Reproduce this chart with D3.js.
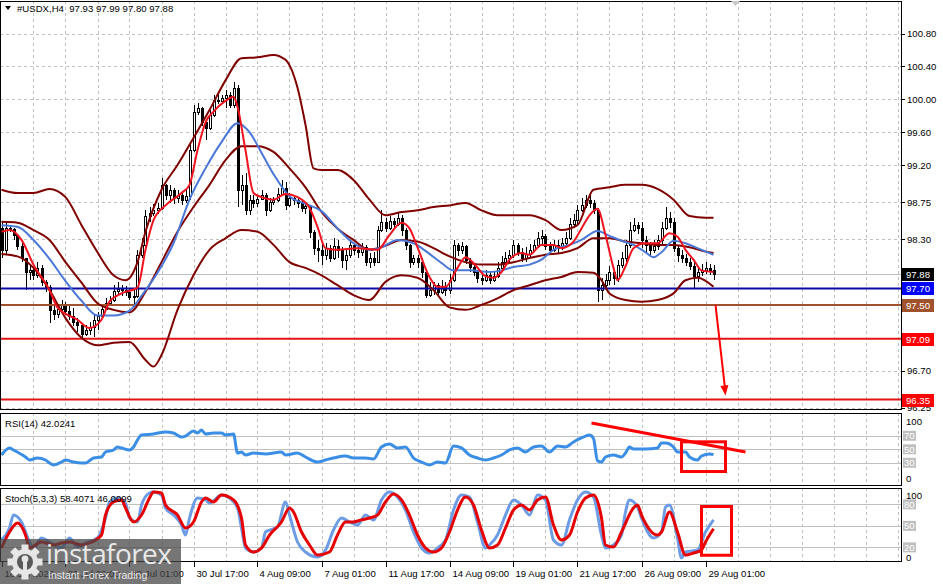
<!DOCTYPE html>
<html><head><meta charset="utf-8">
<script src="https://cdn.jsdelivr.net/npm/d3@7/dist/d3.min.js"></script>
<style>
body{margin:0;background:#fff;overflow:hidden}
svg{display:block}
text{font-family:"Liberation Sans",Arial,sans-serif}
</style></head>
<body><svg id="c" width="943" height="584"></svg>
<script>
// ---------------- DATA ----------------
const symbolTitle = "#USDX,H4  97.93 97.99 97.80 97.88";
const rsiTitle = "RSI(14) 42.0241";
const stochTitle = "Stoch(5,3,3) 58.4071 46.0099";

const opens = [98.43,98.17,98.43,98.42,98.35,98.22,98.07,97.90,97.92,97.86,97.95,97.78,97.72,97.44,97.39,97.45,97.50,97.43,97.37,97.29,97.26,97.15,97.20,97.23,97.32,97.37,97.45,97.52,97.56,97.67,97.69,97.68,97.66,97.60,97.61,98.11,98.23,98.58,98.62,98.65,98.68,98.96,98.84,98.90,98.80,98.84,98.78,98.82,99.38,99.85,99.89,99.72,99.65,99.81,99.99,99.98,100.02,100.05,99.93,100.14,98.90,98.96,98.65,98.78,98.74,98.79,98.84,98.65,98.75,98.78,98.85,98.92,98.72,98.80,98.78,98.74,98.68,98.70,98.39,98.19,98.17,98.11,98.19,98.07,98.22,98.17,98.05,98.11,98.23,98.17,98.14,98.20,98.02,98.07,98.02,98.41,98.51,98.43,98.52,98.48,98.56,98.41,98.23,98.02,98.07,98.02,97.90,97.62,97.68,97.74,97.66,97.72,97.68,97.80,98.23,98.17,98.22,98.05,97.96,97.90,97.83,97.80,97.86,97.80,97.85,97.95,98.02,98.07,98.11,98.23,98.14,98.07,98.12,98.17,98.23,98.31,98.34,98.22,98.17,98.23,98.19,98.25,98.31,98.48,98.53,98.65,98.72,98.78,98.74,98.65,97.68,97.74,97.80,97.90,97.83,97.99,98.07,98.23,98.41,98.47,98.43,98.29,98.23,98.17,98.22,98.29,98.43,98.56,98.51,98.19,98.11,98.07,98.02,97.97,97.85,97.90,97.92,97.95,97.93];
const closes = [98.17,98.43,98.42,98.35,98.22,98.07,97.90,97.92,97.86,97.95,97.78,97.72,97.44,97.39,97.45,97.50,97.43,97.37,97.29,97.26,97.15,97.20,97.23,97.32,97.37,97.45,97.52,97.56,97.67,97.69,97.68,97.66,97.60,97.61,98.11,98.23,98.58,98.62,98.65,98.68,98.96,98.84,98.90,98.80,98.84,98.78,98.82,99.38,99.85,99.89,99.72,99.65,99.81,99.99,99.98,100.02,100.05,99.93,100.14,98.90,98.96,98.65,98.78,98.74,98.79,98.84,98.65,98.75,98.78,98.85,98.92,98.72,98.80,98.78,98.74,98.68,98.70,98.39,98.19,98.17,98.11,98.19,98.07,98.22,98.17,98.05,98.11,98.23,98.17,98.14,98.20,98.02,98.07,98.02,98.41,98.51,98.43,98.52,98.48,98.56,98.41,98.23,98.02,98.07,98.02,97.90,97.62,97.68,97.74,97.66,97.72,97.68,97.80,98.23,98.17,98.22,98.05,97.96,97.90,97.83,97.80,97.86,97.80,97.85,97.95,98.02,98.07,98.11,98.23,98.14,98.07,98.12,98.17,98.23,98.31,98.34,98.22,98.17,98.23,98.19,98.25,98.31,98.48,98.53,98.65,98.72,98.78,98.74,98.65,97.68,97.74,97.80,97.90,97.83,97.99,98.07,98.23,98.41,98.47,98.43,98.29,98.23,98.17,98.22,98.29,98.43,98.56,98.51,98.19,98.11,98.07,98.02,97.97,97.85,97.90,97.92,97.95,97.93,97.88];
const highs = [98.51,98.51,98.47,98.43,98.35,98.25,98.07,97.99,97.95,98.02,97.99,97.80,97.74,97.50,97.50,97.56,97.54,97.50,97.46,97.34,97.28,97.26,97.29,97.38,97.41,97.50,97.58,97.61,97.74,97.78,97.74,97.73,97.71,97.68,98.17,98.31,98.65,98.69,98.73,98.74,99.04,98.97,98.96,98.92,98.90,98.87,98.90,99.47,99.93,99.96,99.91,99.75,99.87,100.05,100.06,100.05,100.11,100.09,100.21,100.17,99.08,99.10,98.84,98.84,98.84,98.90,98.86,98.80,98.81,98.92,99.02,98.99,98.86,98.84,98.81,98.78,98.75,98.72,98.41,98.29,98.25,98.25,98.23,98.31,98.29,98.20,98.17,98.29,98.25,98.23,98.25,98.23,98.13,98.14,98.46,98.65,98.56,98.58,98.56,98.62,98.59,98.43,98.24,98.11,98.11,98.07,97.92,97.78,97.78,97.77,97.80,97.78,97.88,98.29,98.25,98.26,98.23,98.07,97.99,97.92,97.88,97.92,97.90,97.91,98.02,98.09,98.14,98.17,98.29,98.25,98.19,98.20,98.24,98.29,98.39,98.41,98.36,98.27,98.29,98.29,98.31,98.39,98.56,98.61,98.72,98.80,98.84,98.84,98.78,98.68,97.83,97.88,97.97,97.92,98.05,98.14,98.29,98.51,98.56,98.51,98.51,98.34,98.27,98.29,98.35,98.51,98.69,98.63,98.56,98.22,98.17,98.12,98.07,98.02,97.97,98.00,98.02,98.00,97.99];
const lows = [98.07,98.11,98.39,98.29,98.17,98.02,97.68,97.80,97.80,97.83,97.73,97.66,97.28,97.32,97.34,97.41,97.38,97.32,97.24,97.17,97.10,97.12,97.13,97.11,97.20,97.34,97.44,97.49,97.54,97.62,97.61,97.61,97.56,97.47,97.58,98.07,98.19,98.51,98.58,98.61,98.65,98.78,98.74,98.73,98.74,98.71,98.74,98.78,99.36,99.81,99.67,99.50,99.63,99.78,99.94,99.97,99.89,99.89,99.89,98.69,98.72,98.59,98.59,98.68,98.69,98.78,98.58,98.63,98.72,98.75,98.82,98.65,98.69,98.72,98.68,98.63,98.61,98.31,98.11,98.02,97.99,98.05,98.02,98.05,98.07,97.95,97.92,98.07,98.11,98.07,98.09,97.97,97.95,97.97,98.02,98.39,98.39,98.41,98.41,98.46,98.34,98.17,97.95,97.99,97.95,97.83,97.58,97.60,97.62,97.60,97.63,97.61,97.63,97.78,98.09,98.12,98.00,97.90,97.85,97.77,97.74,97.78,97.75,97.78,97.83,97.92,97.99,98.02,98.07,98.09,98.02,98.02,98.07,98.14,98.19,98.24,98.17,98.11,98.14,98.12,98.17,98.22,98.29,98.43,98.47,98.63,98.68,98.68,98.61,97.54,97.56,97.68,97.74,97.74,97.78,97.95,98.02,98.19,98.39,98.36,98.19,98.14,98.11,98.13,98.17,98.23,98.41,98.43,98.14,98.02,98.01,97.97,97.92,97.71,97.78,97.85,97.88,97.86,97.80];

// fast MA (red)
const redBars = [0,2,5,8,12,14,19,22,25,27,30,34,36,38,41,45,47,49,51,53,56,58,59,61,63,65,68,71,74,77,79,81,84,89,94,97,100,102,104,107,109,111,114,116,118,121,123,125,127,130,132,135,138,140,143,145,147,149,151,153,154,156,158,161,164,167,169,171,173,175,178];
const redVals = [98.39,98.41,98.29,97.99,97.68,97.47,97.32,97.22,97.32,97.54,97.64,97.71,98.17,98.53,98.71,98.86,98.96,99.38,99.72,99.85,99.98,100.03,99.91,99.38,98.86,98.81,98.78,98.85,98.81,98.68,98.45,98.19,98.17,98.19,98.17,98.35,98.50,98.43,98.20,97.84,97.72,97.72,97.95,98.08,98.01,97.85,97.83,97.90,98.05,98.13,98.11,98.23,98.23,98.19,98.27,98.43,98.59,98.67,98.35,97.95,97.80,97.97,98.19,98.25,98.25,98.37,98.33,98.17,98.05,97.92,97.90];
// slow MA (blue)
const blueBars = [0,4,8,12,16,20,24,28,32,35,39,43,47,51,55,59,62,65,68,72,76,80,84,88,92,95,99,103,107,110,113,117,122,125,128,132,135,138,142,145,149,152,155,158,161,163,165,168,171,174,178];
const blueVals = [98.47,98.45,98.29,98.06,97.79,97.55,97.37,97.37,97.43,97.61,97.89,98.25,98.78,99.16,99.48,99.71,99.60,99.35,99.09,98.82,98.73,98.64,98.43,98.25,98.17,98.20,98.29,98.25,98.12,98.01,97.92,97.92,97.90,97.92,97.96,97.99,98.05,98.17,98.23,98.29,98.40,98.34,98.28,98.23,98.14,98.08,98.14,98.28,98.25,98.19,98.11];
// Bollinger bands
const bandBars = [0,4,8,12,16,20,24,28,32,36,40,44,48,52,56,60,64,68,72,76,80,84,88,92,96,100,104,108,112,116,120,124,128,132,136,140,144,148,152,156,160,164,168,172,176,178];
const bandMid = [98.51,98.50,98.41,98.29,98.02,97.77,97.52,97.44,97.41,97.66,98.02,98.39,98.69,98.96,99.26,99.43,99.43,99.36,99.16,98.93,98.63,98.43,98.29,98.17,98.22,98.29,98.27,98.19,98.09,98.02,97.99,97.99,98.02,98.07,98.11,98.13,98.19,98.31,98.31,98.27,98.25,98.23,98.23,98.20,98.15,98.13];
const upperBars = [0,4,8,12,16,20,24,28,31,34,36,40,44,48,52,56,60,64,68,71,74,76,78,80,84,88,92,96,100,104,108,112,116,120,124,128,132,136,140,144,148,152,156,160,164,168,172,176,178];
const bandUpper = [98.90,98.86,98.86,98.91,98.81,98.47,98.14,97.86,97.80,98.02,98.39,98.90,99.20,99.53,99.87,100.23,100.50,100.51,100.54,100.48,100.14,99.69,99.16,99.14,99.14,99.02,98.78,98.59,98.63,98.65,98.69,98.71,98.74,98.65,98.59,98.59,98.59,98.53,98.41,98.47,98.90,98.93,98.96,98.96,98.91,98.78,98.58,98.56,98.56];
const lowerBars = [0,4,8,12,16,20,24,28,32,36,38,40,44,48,52,56,60,64,68,72,76,80,84,88,92,96,100,104,108,112,116,120,124,128,132,136,140,144,148,150,152,156,160,164,168,171,174,178];
const bandLower = [98.12,98.09,97.95,97.68,97.34,97.10,97.01,97.04,97.05,96.83,96.75,96.89,97.44,97.86,98.17,98.31,98.41,98.39,98.23,98.02,97.95,97.86,97.74,97.62,97.56,97.78,97.86,97.83,97.68,97.47,97.44,97.50,97.58,97.68,97.74,97.80,97.84,97.90,97.89,97.80,97.64,97.56,97.54,97.56,97.64,97.80,97.83,97.72];

// RSI(14)
const rsiBars = [0,2,3,6,7,9,11,12,13,15,16,18,20,21,23,25,26,28,29,30,32,33,34,35,38,41,43,45,46,48,49,50,51,53,55,56,58,59,60,61,63,66,70,71,74,76,79,81,83,86,88,91,93,95,97,99,101,103,105,107,109,111,113,115,117,119,121,123,125,127,129,131,133,135,137,139,141,143,145,147,148,149,150,151,153,155,156,157,158,161,164,165,166,168,169,171,172,174,175,177,178];
const rsiVals = [41.5,51.9,48.9,38.5,34.1,37.0,34.1,29.6,26.7,31.1,34.1,31.1,29.6,29.6,37.0,38.5,45.9,48.9,53.3,51.9,48.9,53.3,63.7,71.1,72.6,75.6,74.1,68.1,69.6,77.0,74.1,78.5,72.6,74.1,74.1,71.1,72.6,44.4,45.9,41.5,44.4,43.0,45.9,41.5,44.4,38.5,31.1,34.1,37.0,40.0,37.0,37.0,35.6,53.3,57.8,51.9,53.3,37.0,31.1,26.7,31.1,29.6,54.8,51.9,41.5,37.0,34.1,37.0,41.5,48.9,51.9,45.9,53.3,54.8,45.9,54.8,53.3,60.7,66.7,71.1,66.0,33.0,31.1,38.5,41.5,38.5,44.4,53.3,50.4,50.4,51.9,59.3,59.3,53.3,45.9,45.9,38.5,34.1,40.0,43.0,42.0];

// Stochastic %K (blue) and %D (red)
const kBars = [0,2,3,5,7,8,10,12,15,17,19,21,24,26,27,29,31,32,34,35,37,38,40,41,43,45,46,47,49,51,52,55,57,59,60,61,63,65,66,69,71,72,74,76,79,81,83,85,87,89,91,93,95,97,99,101,103,105,107,109,111,113,115,117,119,121,122,124,126,128,130,132,134,136,138,140,142,144,146,148,150,151,153,155,156,157,159,160,163,165,166,167,169,170,171,174,176,178];
const kVals = [30.3,47.0,65.1,55.4,27.5,19.1,33.1,27.5,19.1,33.1,20.5,26.1,33.1,60.9,83.3,88.8,81.9,60.9,55.4,79.1,95.8,97.2,93.0,74.9,65.1,51.2,37.2,60.9,88.8,86.1,81.9,93.0,88.8,74.9,47.0,19.1,13.5,19.1,41.4,48.4,83.3,65.1,27.5,13.5,6.6,16.3,44.2,60.9,55.4,51.2,65.1,58.3,86.1,97.2,90.2,72.1,41.4,19.1,12.1,19.1,30.3,72.1,93.0,90.2,55.4,19.1,23.3,37.2,65.1,86.1,79.1,65.1,93.0,86.1,30.3,23.3,58.3,86.1,97.2,90.2,37.2,19.1,23.3,37.2,69.3,86.1,76.3,60.9,33.1,41.4,76.3,79.1,33.1,5.2,13.5,16.3,41.4,58.4];
const dBars = [0,2,4,6,7,10,13,15,17,20,22,25,26,28,30,31,33,35,37,38,40,41,44,46,48,50,51,53,55,58,60,61,63,65,67,70,72,73,75,77,79,82,84,86,88,90,92,94,96,98,100,102,104,106,108,110,112,114,116,118,120,122,124,126,128,130,132,134,136,138,140,142,144,146,148,150,151,153,155,158,159,160,164,165,167,169,171,173,175,176,178];
const dVals = [19.1,41.4,53.9,37.2,19.1,27.5,23.3,26.1,27.5,23.3,26.1,37.2,65.1,83.3,86.1,74.9,55.4,65.1,88.8,97.2,95.8,79.1,65.1,47.0,55.4,83.3,88.8,83.3,93.0,86.1,60.9,23.3,13.5,19.1,37.2,55.4,74.9,69.3,41.4,23.3,9.3,13.5,37.2,55.4,55.4,58.3,60.9,65.1,83.3,94.4,86.1,65.1,37.2,19.1,13.5,19.1,41.4,72.1,90.2,79.1,44.2,19.1,23.3,47.0,72.1,79.1,72.1,86.1,90.2,51.2,30.3,37.2,69.3,88.8,93.0,60.9,23.3,20.5,41.4,74.9,79.1,65.1,37.2,41.4,69.3,41.4,9.3,12.1,16.3,27.5,46.0];

// axes / levels
const priceTicks = [100.80,100.40,100.00,99.60,99.20,98.75,98.30,96.70,96.25];
const bidPrice = 97.88;
const levelPrices = [97.70,97.50,97.09,96.35];
const timeTickBars = [0,16,32,48,64,80,96,112,128,144,160,176];
const timeTickLabels = ["18 Jul 2025","23 Jul 09:00","28 Jul 01:00","30 Jul 17:00","4 Aug 09:00","7 Aug 01:00","11 Aug 17:00","14 Aug 09:00","19 Aug 01:00","21 Aug 17:00","26 Aug 09:00","29 Aug 01:00"];
const rsiLevels = [70,50,30];
const stochLevels = [80,50,20];
// annotations (bar index / value anchors)
const arrowFrom = [178.5, 97.50], arrowTo = [181, 96.40];
const rsiTrend = [[147.5, 89], [186, 46]];
const rsiBox = [[170, 61], [181, 17]];
const stochBox = [[175, 77], [182.5, 9]];

// ---------------- STYLE ----------------
const levelColors = ["#0a0aa8","#a0522d","#e31414","#e31414"];
const levelLabelBg = ["#0000ff","#a0522d","#ff0000","#ff0000"];
const C_BAND = "#800000", C_RED = "#f0141e", C_BLUE = "#4a78d8";
const C_RSI = "#3a8ee6", C_K = "#6d9ce6", C_D = "#e60000";
const GRID = "#c0c0c0";

const svg = d3.select("#c");
const PR = 901;
const main = {t:1,b:410}, rsiP = {t:413,b:486}, stP = {t:488,b:562};

const x = d3.scaleLinear().domain([0,178]).range([1.5,713.5]);
const y = d3.scaleLinear().domain([96.35,100.80]).range([399.5,33.5]);
const yR = d3.scaleLinear().domain([0,100]).range([483,415.5]);
const yS = d3.scaleLinear().domain([0,100]).range([561.7,490]);

svg.append("rect").attr("width",943).attr("height",584).attr("fill","#fff");

const defs = svg.append("defs");
[["cm",main],["cr",rsiP],["cs",stP]].forEach(([id,p])=>{
  defs.append("clipPath").attr("id",id).append("rect").attr("x",0).attr("y",p.t).attr("width",PR).attr("height",p.b-p.t);
});

// vertical grid
const vgrid = d3.range(8,232,8);
[main,rsiP,stP].forEach(p=>{
  svg.append("g").selectAll("line").data(vgrid.filter(d=>x(d)<PR-1)).join("line")
    .attr("x1",d=>Math.round(x(d))+0.5).attr("x2",d=>Math.round(x(d))+0.5)
    .attr("y1",p.t).attr("y2",p.b).attr("stroke",GRID).attr("stroke-dasharray","3,3")
    .attr("shape-rendering","crispEdges");
});
// horizontal grid main
svg.append("g").selectAll("line").data(priceTicks.concat([bidPrice])).join("line")
  .attr("x1",0).attr("x2",PR).attr("y1",d=>Math.round(y(d))+0.5).attr("y2",d=>Math.round(y(d))+0.5)
  .attr("stroke",GRID).attr("stroke-dasharray","3,3").attr("shape-rendering","crispEdges");
svg.append("line").attr("x1",0).attr("x2",PR).attr("y1",Math.round(y(bidPrice))+0.5).attr("y2",Math.round(y(bidPrice))+0.5)
  .attr("stroke","#c0c0c0").attr("shape-rendering","crispEdges");

svg.append("g").selectAll("line").data(rsiLevels).join("line")
  .attr("x1",0).attr("x2",PR).attr("y1",d=>Math.round(yR(d))+0.5).attr("y2",d=>Math.round(yR(d))+0.5)
  .attr("stroke",GRID).attr("shape-rendering","crispEdges");
svg.append("g").selectAll("line").data(stochLevels).join("line")
  .attr("x1",0).attr("x2",PR).attr("y1",d=>Math.round(yS(d))+0.5).attr("y2",d=>Math.round(yS(d))+0.5)
  .attr("stroke",GRID).attr("shape-rendering","crispEdges");

// candles
const gC = svg.append("g").attr("clip-path","url(#cm)");
closes.forEach((c,i)=>{
  const o = opens[i];
  const cx = Math.round(x(i)) + 0.5;
  const hi = Math.max(highs[i],o,c), lo = Math.min(lows[i],o,c);
  gC.append("line").attr("x1",cx).attr("x2",cx).attr("y1",Math.round(y(hi))).attr("y2",Math.round(y(lo)))
    .attr("stroke","#000").attr("shape-rendering","crispEdges");
  const yt = Math.round(y(Math.max(o,c))), yb = Math.round(y(Math.min(o,c)));
  gC.append("rect").attr("x",cx-1).attr("y",yt+0.5).attr("width",2).attr("height",Math.max(yb-yt,0.01))
    .attr("fill", c>=o ? "#fff" : "#000").attr("stroke","#000").attr("shape-rendering","crispEdges");
});

// levels
const gL = svg.append("g").attr("clip-path","url(#cm)");
levelPrices.forEach((v,i)=>{
  gL.append("line").attr("x1",0).attr("x2",PR).attr("y1",y(v)).attr("y2",y(v))
    .attr("stroke",levelColors[i]).attr("stroke-width",2);
});

// indicator lines
function pairs(b,v){return b.map((d,i)=>[d,v[i]]);}
const lineP = d3.line().x(d=>x(d[0])).y(d=>y(d[1])).curve(d3.curveMonotoneX);
const gI = svg.append("g").attr("clip-path","url(#cm)").attr("fill","none");
gI.append("path").attr("d",lineP(pairs(upperBars,bandUpper))).attr("stroke",C_BAND).attr("stroke-width",2);
gI.append("path").attr("d",lineP(pairs(bandBars,bandMid))).attr("stroke",C_BAND).attr("stroke-width",2);
gI.append("path").attr("d",lineP(pairs(lowerBars,bandLower))).attr("stroke",C_BAND).attr("stroke-width",2);
gI.append("path").attr("d",lineP(pairs(blueBars,blueVals))).attr("stroke",C_BLUE).attr("stroke-width",2);
gI.append("path").attr("d",lineP(pairs(redBars,redVals))).attr("stroke",C_RED).attr("stroke-width",2);

// RSI
const lineR = d3.line().x(d=>x(d[0])).y(d=>yR(d[1])).curve(d3.curveMonotoneX);
svg.append("path").attr("clip-path","url(#cr)").attr("d",lineR(pairs(rsiBars,rsiVals)))
  .attr("fill","none").attr("stroke",C_RSI).attr("stroke-width",3);
// Stoch
const lineS = d3.line().x(d=>x(d[0])).y(d=>yS(d[1])).curve(d3.curveMonotoneX);
svg.append("path").attr("clip-path","url(#cs)").attr("d",lineS(pairs(kBars,kVals)))
  .attr("fill","none").attr("stroke",C_K).attr("stroke-width",3);
svg.append("path").attr("clip-path","url(#cs)").attr("d",lineS(pairs(dBars,dVals)))
  .attr("fill","none").attr("stroke",C_D).attr("stroke-width",3);

// panel frames
[main,rsiP,stP].forEach(p=>{
  svg.append("rect").attr("x",0.5).attr("y",p.t+0.5).attr("width",PR-0.5).attr("height",p.b-p.t-1)
    .attr("fill","none").attr("stroke","#000").attr("shape-rendering","crispEdges");
});

// right price axis
const gA = svg.append("g");
priceTicks.forEach(v=>{
  gA.append("line").attr("x1",PR).attr("x2",PR+4).attr("y1",Math.round(y(v))+0.5).attr("y2",Math.round(y(v))+0.5).attr("stroke","#000");
  gA.append("text").attr("x",PR+6).attr("y",y(v)+3.5).attr("font-size",9.6).attr("fill","#000").text(v.toFixed(2));
});
function tag(v,yy,bg){
  gA.append("rect").attr("x",PR+1).attr("y",Math.round(yy)-6).attr("width",32).attr("height",13).attr("fill",bg);
  gA.append("text").attr("x",PR+5).attr("y",Math.round(yy)+4).attr("font-size",9.6).attr("fill","#fff").text(v.toFixed(2));
}
tag(bidPrice,y(bidPrice),"#000");
levelPrices.forEach((v,i)=>tag(v,y(v),levelLabelBg[i]));

function subAxis(sc, lv){
  gA.append("text").attr("x",PR+5).attr("y",sc(100)+9).attr("font-size",9.6).text("100");
  gA.append("text").attr("x",PR+5).attr("y",sc(0)-1).attr("font-size",9.6).text("0");
  lv.forEach(v=>{
    gA.append("rect").attr("x",PR+2).attr("y",sc(v)-5).attr("width",13).attr("height",10).attr("fill","#c0c0c0");
    gA.append("text").attr("x",PR+3).attr("y",sc(v)+3.5).attr("font-size",9.6).attr("fill","#fff").text(v);
  });
}
subAxis(yR, rsiLevels);
subAxis(yS, stochLevels);

// time axis
timeTickBars.forEach((b,i)=>{
  const xx = Math.round(x(b))+0.5;
  gA.append("line").attr("x1",xx).attr("x2",xx).attr("y1",stP.b).attr("y2",stP.b+5).attr("stroke","#000");
  gA.append("text").attr("x",xx+2).attr("y",577).attr("font-size",9.6).text(timeTickLabels[i]);
});

// titles
svg.append("path").attr("d","M5,6 L11,6 L8,10 Z").attr("fill","#000");
svg.append("text").attr("x",17).attr("y",12).attr("font-size",9.6).attr("xml:space","preserve").text(symbolTitle);
svg.append("text").attr("x",5).attr("y",rsiP.t+14).attr("font-size",9.6).text(rsiTitle);
svg.append("text").attr("x",5).attr("y",stP.t+14).attr("font-size",9.6).text(stochTitle);
svg.append("path").attr("d","M731,1 L740,1 L735.5,6 Z").attr("fill","#c8c8c8");

// annotations
const gN = svg.append("g").attr("fill","none").attr("stroke","#ff0000");
const ax1 = x(arrowFrom[0]), ay1 = y(arrowFrom[1]), ax2 = x(arrowTo[0]), ay2 = y(arrowTo[1]);
gN.append("line").attr("x1",ax1).attr("y1",ay1).attr("x2",ax2-0.6).attr("y2",ay2-8).attr("stroke-width",2);
const ang = Math.atan2(ay2-ay1, ax2-ax1);
const hl=10, hw=4;
const bx = ax2 - hl*Math.cos(ang), by = ay2 - hl*Math.sin(ang);
svg.append("path").attr("fill","#ff0000")
  .attr("d",`M${ax2},${ay2} L${bx+hw*Math.sin(ang)},${by-hw*Math.cos(ang)} L${bx-hw*Math.sin(ang)},${by+hw*Math.cos(ang)} Z`);
gN.append("line").attr("x1",x(rsiTrend[0][0])).attr("y1",yR(rsiTrend[0][1])).attr("x2",x(rsiTrend[1][0])).attr("y2",yR(rsiTrend[1][1])).attr("stroke-width",3);
gN.append("rect").attr("x",x(rsiBox[0][0])).attr("y",yR(rsiBox[0][1])).attr("width",x(rsiBox[1][0])-x(rsiBox[0][0])).attr("height",yR(rsiBox[1][1])-yR(rsiBox[0][1])).attr("stroke-width",3);
gN.append("rect").attr("x",x(stochBox[0][0])).attr("y",yS(stochBox[0][1])).attr("width",x(stochBox[1][0])-x(stochBox[0][0])).attr("height",yS(stochBox[1][1])-yS(stochBox[0][1])).attr("stroke-width",3);

// logo (semi-transparent watermark over the lower-left corner)
const gLogo = svg.append("g");
gLogo.append("rect").attr("x",0).attr("y",539).attr("width",181).attr("height",45).attr("fill","rgba(70,70,70,0.74)");
const gear = gLogo.append("g").attr("transform","translate(25,562)").attr("fill","#e6e6e6");
d3.range(8).forEach(k=>{
  gear.append("rect").attr("x",-3.5).attr("y",-17.5).attr("width",7).attr("height",8).attr("transform",`rotate(${k*45})`);
});
gear.append("circle").attr("r",13);
gear.append("circle").attr("r",8).attr("fill","#5a5a5a");
gear.append("circle").attr("cy",-3).attr("r",3.4).attr("fill","#e6e6e6");
gear.append("rect").attr("x",-2).attr("y",-3).attr("width",4).attr("height",13).attr("fill","#e6e6e6");
gLogo.append("text").attr("x",46).attr("y",564).attr("font-size",28).attr("fill","#e8e8e8")
  .style("font-family","'Open Sans','Liberation Sans',sans-serif").attr("letter-spacing",-0.6).text("instaforex");
gLogo.append("text").attr("x",48).attr("y",579).attr("font-size",10.5).attr("fill","#e8e8e8").text("Instant Forex Trading");
</script>
</body></html>
